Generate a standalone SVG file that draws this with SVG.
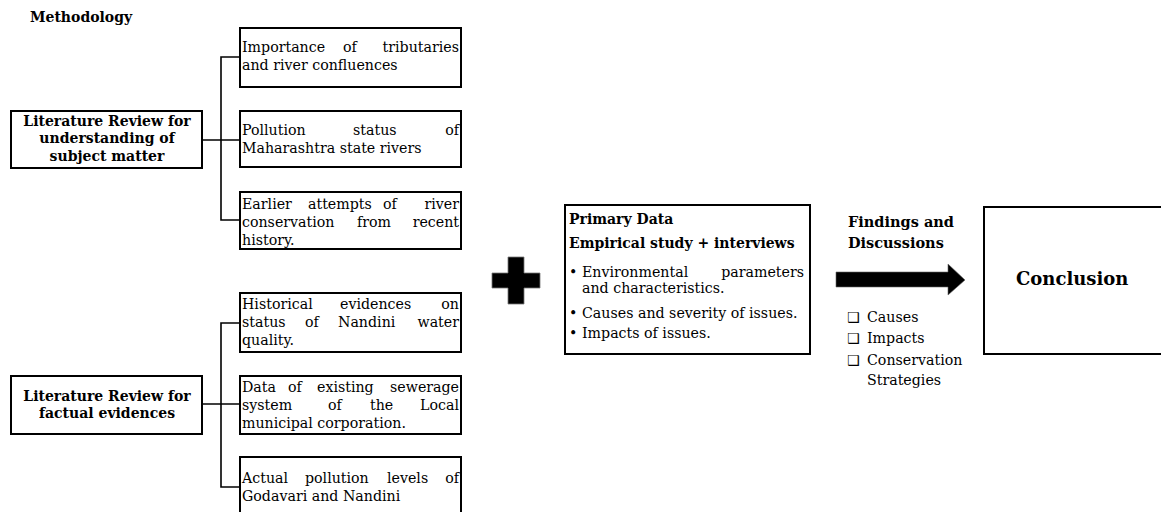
<svg xmlns="http://www.w3.org/2000/svg" width="1161" height="512" viewBox="0 0 1161 512">
<style>
.box{fill:#fff;stroke:#000;stroke-width:2}
.t{font-family:"DejaVu Serif","Liberation Serif",serif;font-size:14.2px;fill:#000}
.b{font-family:"DejaVu Serif","Liberation Serif",serif;font-size:14px;font-weight:bold;fill:#000}
.e{text-anchor:end}
.m{text-anchor:middle}
.c{fill:none;stroke:#000;stroke-width:1.6}
.sym{font-family:"DejaVu Sans",sans-serif;font-size:14px;fill:#000}
</style>
<rect width="1161" height="512" fill="#fff"/>
<text class="b" x="30" y="22">Methodology</text>

<g id="connectors">
<polyline class="c" points="240,57 221,57 221,220 240,220"/>
<line class="c" x1="202" y1="140" x2="240" y2="140"/>
<polyline class="c" points="240,323 221,323 221,487 240,487"/>
<line class="c" x1="202" y1="404" x2="240" y2="404"/>
</g>

<g id="lit1">
<rect class="box" x="11" y="111" width="191" height="57"/>
<text class="b m" x="107" y="126">Literature Review for</text>
<text class="b m" x="107" y="143">understanding of</text>
<text class="b m" x="107" y="161">subject matter</text>
</g>

<g id="n1">
<rect class="box" x="240" y="28" width="221" height="59"/>
<text class="t" x="242" y="52">Importance</text><text class="t" x="343" y="52">of</text><text class="t e" x="459" y="52">tributaries</text>
<text class="t" x="242" y="70">and river confluences</text>
</g>

<g id="n2">
<rect class="box" x="240" y="111" width="221" height="56"/>
<text class="t" x="242" y="135">Pollution</text><text class="t" x="353" y="135">status</text><text class="t e" x="459" y="135">of</text>
<text class="t" x="242" y="153">Maharashtra state rivers</text>
</g>

<g id="n3">
<rect class="box" x="240" y="192" width="221" height="57"/>
<text class="t" x="242" y="209">Earlier</text><text class="t" x="308" y="209">attempts</text><text class="t" x="383" y="209">of</text><text class="t e" x="459" y="209">river</text>
<text class="t" x="242" y="227">conservation</text><text class="t" x="357" y="227">from</text><text class="t e" x="459" y="227">recent</text>
<text class="t" x="242" y="245">history.</text>
</g>

<g id="lit2">
<rect class="box" x="11" y="376" width="191" height="58"/>
<text class="b m" x="107" y="401">Literature Review for</text>
<text class="b m" x="107" y="418">factual evidences</text>
</g>

<g id="n4">
<rect class="box" x="240" y="293" width="221" height="59"/>
<text class="t" x="242" y="309">Historical</text><text class="t" x="340" y="309">evidences</text><text class="t e" x="459" y="309">on</text>
<text class="t" x="242" y="327">status</text><text class="t" x="305" y="327">of</text><text class="t" x="338" y="327">Nandini</text><text class="t e" x="459" y="327">water</text>
<text class="t" x="242" y="345">quality.</text>
</g>

<g id="n5">
<rect class="box" x="240" y="376" width="221" height="58"/>
<text class="t" x="242" y="392">Data</text><text class="t" x="288" y="392">of</text><text class="t" x="317" y="392">existing</text><text class="t e" x="459" y="392">sewerage</text>
<text class="t" x="242" y="410">system</text><text class="t" x="328" y="410">of</text><text class="t" x="370" y="410">the</text><text class="t e" x="459" y="410">Local</text>
<text class="t" x="242" y="428">municipal corporation.</text>
</g>

<g id="n6">
<path class="box" d="M240,520 V457 H461 V520"/>
<text class="t" x="242" y="483">Actual</text><text class="t" x="305" y="483">pollution</text><text class="t" x="387" y="483">levels</text><text class="t e" x="459" y="483">of</text>
<text class="t" x="242" y="501">Godavari and Nandini</text>
</g>

<g id="plus">
<path d="M508,257 H524 V273 H540 V288 H524 V304 H508 V288 H492 V273 H508 Z" fill="#000" stroke="#777" stroke-width="0.8"/>
</g>

<g id="primary">
<rect class="box" x="565" y="205" width="245" height="149"/>
<text class="b" x="569" y="224">Primary Data</text>
<text class="b" x="569" y="248">Empirical study + interviews</text>
<text class="t" x="569" y="277">•</text><text class="t" x="582" y="277">Environmental</text><text class="t e" x="804" y="277">parameters</text>
<text class="t" x="582" y="293">and characteristics.</text>
<text class="t" x="569" y="318">•</text><text class="t" x="582" y="318">Causes and severity of issues.</text>
<text class="t" x="569" y="338">•</text><text class="t" x="582" y="338">Impacts of issues.</text>
</g>

<g id="findings">
<text class="b" x="848" y="227" style="font-size:14.5px">Findings and</text>
<text class="b" x="848" y="248" style="font-size:14.5px">Discussions</text>
<path d="M836,272 H948 V264 L965,280 L948,295 V287 H836 Z" fill="#000" stroke="#666" stroke-width="0.6"/>
<text class="sym" x="847" y="322">❑</text><text class="t" x="867" y="322">Causes</text>
<text class="sym" x="847" y="343">❑</text><text class="t" x="867" y="343">Impacts</text>
<text class="sym" x="847" y="365">❑</text><text class="t" x="867" y="365">Conservation</text>
<text class="t" x="867" y="385">Strategies</text>
</g>

<g id="conclusion">
<path class="box" d="M1170,207 H984 V354 H1170"/>
<text class="b" x="1016" y="285" style="font-size:18px">Conclusion</text>
</g>
</svg>
